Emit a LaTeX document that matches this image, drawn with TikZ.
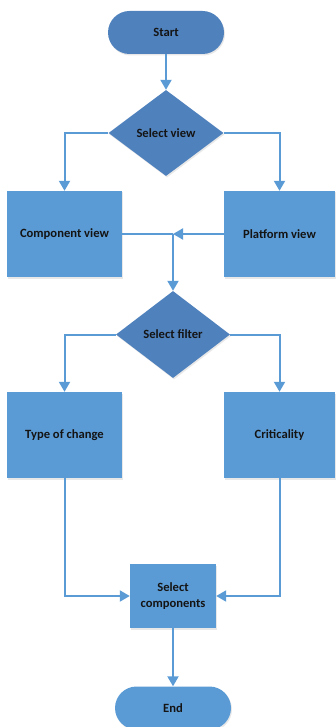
\documentclass[tikz,border=0pt]{standalone}
\usepackage{fontspec}
\setmainfont{Carlito}
\usetikzlibrary{shapes.geometric,arrows.meta,shadows}
\definecolor{darkfill}{HTML}{4F81BD}
\definecolor{lightfill}{HTML}{5B9BD5}
\definecolor{linec}{HTML}{5B9BD5}
\definecolor{txt}{HTML}{141414}
\begin{document}
\begin{tikzpicture}[x=1pt,y=1pt,
  base/.style={fill=#1, draw=none, text=txt, font=\fontsize{12.6}{15}\selectfont\bfseries,
    inner sep=0pt, drop shadow={opacity=0.18, shadow xshift=1pt, shadow yshift=-1.5pt}},
  term/.style={base=#1, rectangle, rounded corners=21.5pt, minimum width=116pt, minimum height=43pt},
  decide/.style={base=darkfill, diamond, aspect=1.3},
  procbox/.style={base=lightfill, rectangle, minimum height=86pt},
  conn/.style={draw=linec, line width=2pt, -{Triangle[width=11pt,length=10pt]}},
  plainconn/.style={draw=linec, line width=2pt}]
\useasboundingbox (0,0) rectangle (336,-727);
\node[term=darkfill] (start) at (166,-32.5) {Start};
\node[decide, minimum width=115pt, minimum height=86pt] (view) at (166,-133) {Select view};
\node[procbox, minimum width=115pt] (comp) at (64.5,-234) {Component view};
\node[procbox, minimum width=111pt] (plat) at (279.5,-234) {Platform view};
\coordinate (j) at (173,-234);
\node[decide, minimum width=114pt, minimum height=87pt] (filter) at (173,-334.5) {Select filter};
\node[procbox, minimum width=115pt] (type) at (64.5,-435) {Type of change};
\node[procbox, minimum width=111pt] (crit) at (279.5,-435) {Criticality};
\node[base=lightfill, rectangle, minimum width=86pt, minimum height=64pt, align=center] (selc) at (173,-596) {Select\\[1pt]components};
\node[term=lightfill] (end) at (173,-708) {End};

\draw[conn] (start) -- (view);
\draw[conn] (view.west) -| (comp.north);
\draw[conn] (view.east) -| (plat.north);
\draw[plainconn] (comp.east) -- (j);
\draw[conn] (plat.west) -- (j);
\draw[conn] (j) -- (filter.north);
\draw[conn] (filter.west) -| (type.north);
\draw[conn] (filter.east) -| (crit.north);
\draw[conn] (type.south) |- (selc.west);
\draw[conn] (crit.south) |- (selc.east);
\draw[conn] (selc) -- (end);
\end{tikzpicture}
\end{document}
